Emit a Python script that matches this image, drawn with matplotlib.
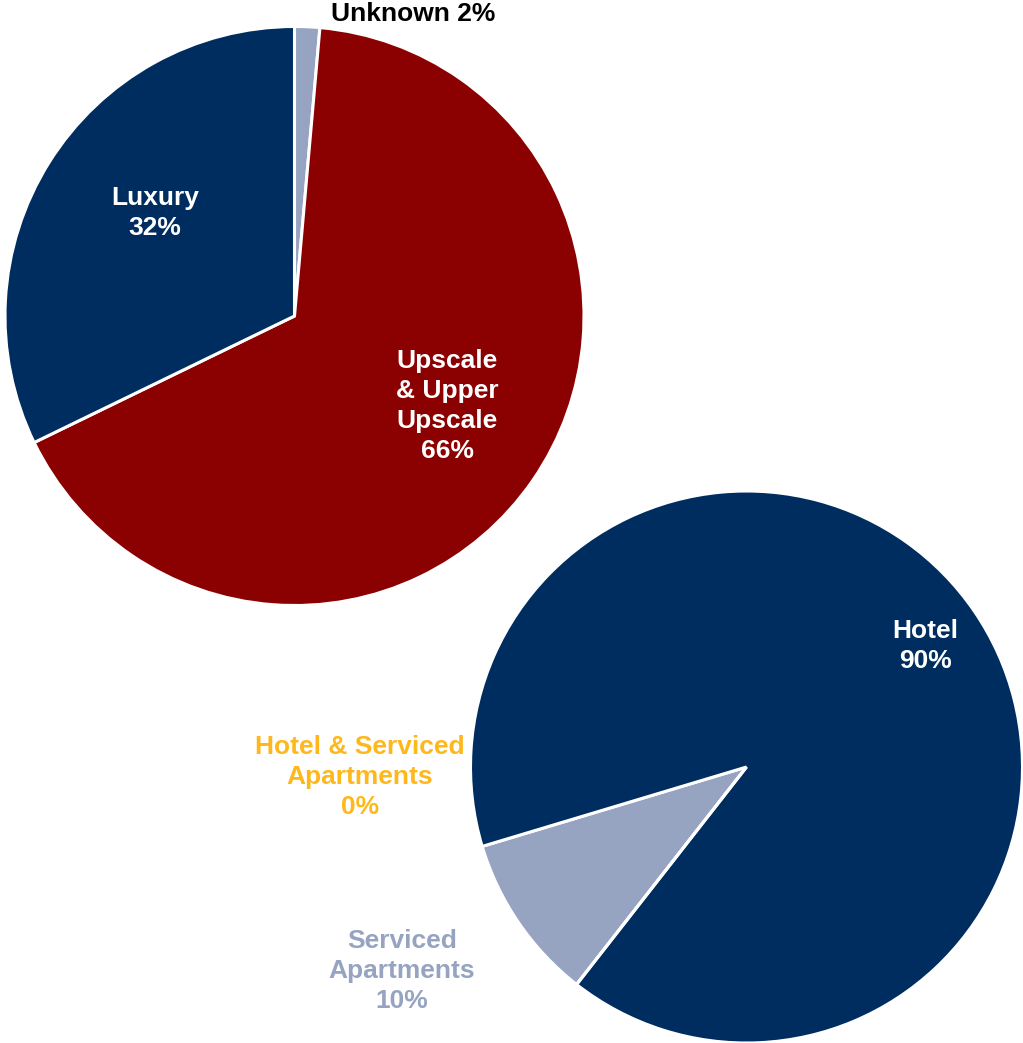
import numpy as np
import matplotlib
matplotlib.use('Agg')
from matplotlib import pyplot as plt

plt.rcParams['font.family'] = ['Liberation Sans', 'DejaVu Sans']

# top pie: hotel class
class_names = ['Unknown', 'Upscale\n& Upper\nUpscale', 'Luxury']
class_values = [1.4, 66.4, 32.2]
class_pct = ['2%', '66%', '32%']
class_colors = ['#96A4C2', '#8B0000', '#002D5F']

# bottom pie: property type
type_names = ['Serviced\nApartments', 'Hotel', 'Hotel & Serviced\nApartments']
type_values = [9.8, 90.2, 0.0]
type_pct = ['10%', '90%', '0%']
type_colors = ['#96A4C2', '#002D5F', '#FFB81C']

W, H = 1023, 1043
fig = plt.figure(figsize=(W / 100, H / 100), dpi=100)
ax = fig.add_axes([0, 0, 1, 1])
ax.set_xlim(0, W)
ax.set_ylim(0, H)
ax.set_aspect('equal')
ax.axis('off')

wedge_style = dict(edgecolor='white', linewidth=2.2)
fs = 19
ls = 1.3

# top pie
ax.pie(class_values, colors=class_colors, startangle=90, counterclock=False,
       center=(294.5, H - 316), radius=289.5, wedgeprops=wedge_style,
       frame=True)

ax.text(413, H - 14, class_names[0] + ' ' + class_pct[0], ha='center', va='center',
        fontsize=fs, fontweight='bold', color='black')
ax.text(447, H - 406, class_names[1] + '\n' + class_pct[1], ha='center', va='center',
        fontsize=fs, fontweight='bold', color='white', linespacing=ls)
ax.text(155, H - 213, class_names[2] + '\n' + class_pct[2], ha='center', va='center',
        fontsize=fs, fontweight='bold', color='white', linespacing=ls)

# bottom pie
ax.pie(type_values, colors=type_colors, startangle=232, counterclock=False,
       center=(746.5, H - 767), radius=276, wedgeprops=wedge_style,
       frame=True)

ax.text(402, H - 971, type_names[0] + '\n' + type_pct[0], ha='center', va='center',
        fontsize=fs, fontweight='bold', color=type_colors[0], linespacing=ls)
ax.text(925, H - 646, type_names[1] + '\n' + type_pct[1], ha='center', va='center',
        fontsize=fs, fontweight='bold', color='white', linespacing=ls)
ax.text(360, H - 777, type_names[2] + '\n' + type_pct[2], ha='center', va='center',
        fontsize=fs, fontweight='bold', color=type_colors[2], linespacing=ls)

ax.set_xlim(0, W)
ax.set_ylim(0, H)
ax.axis('off')

fig.savefig('out.png', dpi=100)
